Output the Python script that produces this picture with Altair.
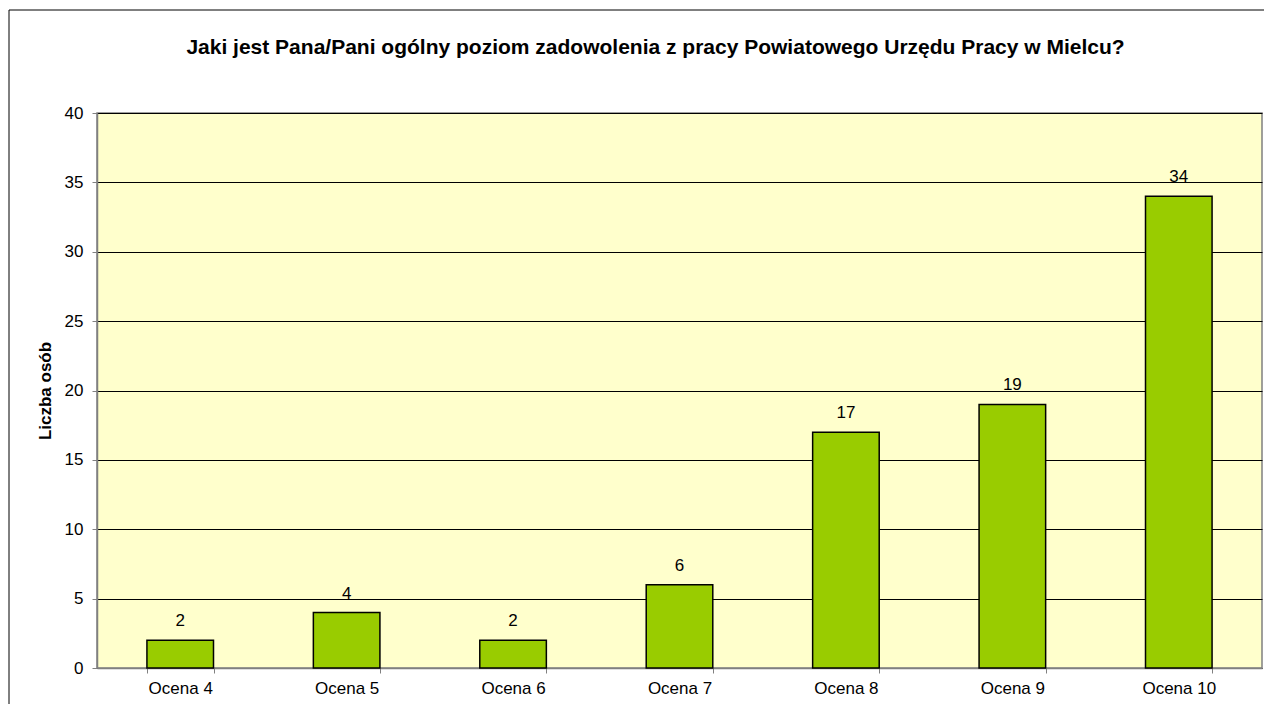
import altair as alt
import pandas as pd

categories = ["Ocena 4", "Ocena 5", "Ocena 6", "Ocena 7", "Ocena 8", "Ocena 9", "Ocena 10"]
values = [2, 4, 2, 6, 17, 19, 34]
y_ticks = [0, 5, 10, 15, 20, 25, 30, 35, 40]

title_text = "Jaki jest Pana/Pani ogólny poziom zadowolenia z pracy Powiatowego Urzędu Pracy w Mielcu?"
y_title = "Liczba osób"

df = pd.DataFrame({"cat": categories, "val": values})
FONT = "Liberation Sans"

x_enc = alt.X("cat:N", sort=categories, title=None,
              scale=alt.Scale(paddingInner=0.6, paddingOuter=0.3),
              axis=alt.Axis(labelAngle=0, tickBand="extent", grid=False,
                            labelFont=FONT, labelFontSize=17, labelColor="#000000",
                            labelPadding=7, tickSize=5, tickColor="#808080",
                            domainColor="#808080", domainWidth=1.5))
y_enc = alt.Y("val:Q", title=y_title,
              scale=alt.Scale(domain=[0, 40], nice=False),
              axis=alt.Axis(values=y_ticks, grid=True, gridColor="#000000", gridWidth=1,
                            labelFont=FONT, labelFontSize=17, labelColor="#000000",
                            labelPadding=9, tickSize=5, tickColor="#808080",
                            domainColor="#808080", domainWidth=1.5,
                            titleFont=FONT, titleFontSize=17, titleFontWeight="bold",
                            titleColor="#000000", titleX=-43))

bars = alt.Chart(df).mark_bar(color="#99CC00", stroke="#000000", strokeWidth=1.5).encode(
    x=x_enc, y=y_enc)

labels = alt.Chart(df).mark_text(font=FONT, fontSize=17, color="#000000",
                                 baseline="alphabetic", dy=-14).encode(
    x=alt.X("cat:N", sort=categories), y="val:Q", text="val:Q")

border_data = alt.Data(values=[{"a": 1}])
left_border = alt.Chart(border_data).mark_rule(color="#000000", strokeWidth=1).encode(
    x=alt.value(-88), y=alt.value(-103), y2=alt.value(600))
top_border = alt.Chart(border_data).mark_rule(color="#000000", strokeWidth=1).encode(
    x=alt.value(-88), x2=alt.value(1167), y=alt.value(-103))

chart = alt.layer(bars, labels, left_border, top_border).properties(
    width=1165, height=555,
    background="#FFFFFF",
    autosize=alt.AutoSizeParams(type="none"),
    padding={"left": 89, "top": 105, "right": 2, "bottom": 36},
    title=alt.TitleParams(title_text, font=FONT, fontSize=21, fontWeight="bold",
                          color="#000000", anchor="middle", frame="group",
                          dx=-24, offset=0, dy=48),
).configure_view(fill="#FFFFCC", stroke="#808080", strokeWidth=1.5)

chart.save("out.html", embed_options={"renderer": "svg", "actions": False})
